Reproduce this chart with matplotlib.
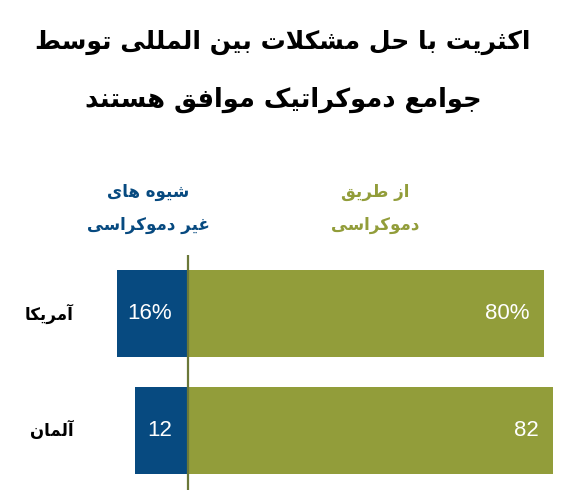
import matplotlib
matplotlib.use("Agg")
import matplotlib.pyplot as plt

# ---------------- data ----------------
countries = ["آمریکا", "آلمان"]
non_democratic = [16, 12]
democratic = [80, 82]
non_dem_labels = ["16%", "12"]
dem_labels = ["80%", "82"]
title_lines = ["اکثریت با حل مشکلات بین المللی توسط", "جوامع دموکراتیک موافق هستند"]
legend_blue = ["شیوه های", "غیر دموکراسی"]
legend_green = ["از طریق", "دموکراسی"]

# ------------- simple Persian shaping -------------
FORMS = {
    'ا': (0xFE8D, 0xFE8E, None, None),
    'آ': (0xFE81, 0xFE82, None, None),
    'ب': (0xFE8F, 0xFE90, 0xFE91, 0xFE92),
    'پ': (0xFB56, 0xFB57, 0xFB58, 0xFB59),
    'ت': (0xFE95, 0xFE96, 0xFE97, 0xFE98),
    'ث': (0xFE99, 0xFE9A, 0xFE9B, 0xFE9C),
    'ج': (0xFE9D, 0xFE9E, 0xFE9F, 0xFEA0),
    'چ': (0xFB7A, 0xFB7B, 0xFB7C, 0xFB7D),
    'ح': (0xFEA1, 0xFEA2, 0xFEA3, 0xFEA4),
    'خ': (0xFEA5, 0xFEA6, 0xFEA7, 0xFEA8),
    'د': (0xFEA9, 0xFEAA, None, None),
    'ذ': (0xFEAB, 0xFEAC, None, None),
    'ر': (0xFEAD, 0xFEAE, None, None),
    'ز': (0xFEAF, 0xFEB0, None, None),
    'ژ': (0xFB8A, 0xFB8B, None, None),
    'س': (0xFEB1, 0xFEB2, 0xFEB3, 0xFEB4),
    'ش': (0xFEB5, 0xFEB6, 0xFEB7, 0xFEB8),
    'ص': (0xFEB9, 0xFEBA, 0xFEBB, 0xFEBC),
    'ض': (0xFEBD, 0xFEBE, 0xFEBF, 0xFEC0),
    'ط': (0xFEC1, 0xFEC2, 0xFEC3, 0xFEC4),
    'ظ': (0xFEC5, 0xFEC6, 0xFEC7, 0xFEC8),
    'ع': (0xFEC9, 0xFECA, 0xFECB, 0xFECC),
    'غ': (0xFECD, 0xFECE, 0xFECF, 0xFED0),
    'ف': (0xFED1, 0xFED2, 0xFED3, 0xFED4),
    'ق': (0xFED5, 0xFED6, 0xFED7, 0xFED8),
    'ک': (0xFB8E, 0xFB8F, 0xFB90, 0xFB91),
    'گ': (0xFB92, 0xFB93, 0xFB94, 0xFB95),
    'ل': (0xFEDD, 0xFEDE, 0xFEDF, 0xFEE0),
    'م': (0xFEE1, 0xFEE2, 0xFEE3, 0xFEE4),
    'ن': (0xFEE5, 0xFEE6, 0xFEE7, 0xFEE8),
    'و': (0xFEED, 0xFEEE, None, None),
    'ه': (0xFEE9, 0xFEEA, 0xFEEB, 0xFEEC),
    'ی': (0xFBFC, 0xFBFD, 0xFBFE, 0xFBFF),
}
LIG = {'ا': (0xFEFB, 0xFEFC), 'آ': (0xFEF5, 0xFEF6)}


def dual(c):
    return c in FORMS and FORMS[c][2] is not None


def shape(text):
    chars = list(text)
    out = []
    i = 0
    n = len(chars)
    while i < n:
        c = chars[i]
        if c not in FORMS:
            out.append(c)
            i += 1
            continue
        prev_join = i > 0 and dual(chars[i - 1])
        if c == 'ل' and i + 1 < n and chars[i + 1] in LIG:
            iso, fin = LIG[chars[i + 1]]
            out.append(chr(fin if prev_join else iso))
            i += 2
            continue
        next_join = dual(c) and i + 1 < n and chars[i + 1] in FORMS
        iso, fin, ini, med = FORMS[c]
        if prev_join and next_join:
            code = med
        elif prev_join:
            code = fin
        elif next_join:
            code = ini
        else:
            code = iso
        out.append(chr(code))
        i += 1
    return ''.join(reversed(out))


# ---------------- figure ----------------
W, H = 566, 499
fig = plt.figure(figsize=(W / 100, H / 100), dpi=100)
fig.patch.set_facecolor("white")

BLUE = "#074a80"
GREEN = "#929d3a"
LINE = "#6b7838"
AR = ["DejaVu Sans"]

# title
fig.text(0.5, 1 - 42 / H, shape(title_lines[0]), ha="center", va="center",
         fontsize=18, fontweight="bold", family=AR, color="black")
fig.text(0.5, 1 - 100 / H, shape(title_lines[1]), ha="center", va="center",
         fontsize=18.5, fontweight="bold", family=AR, color="black")

# legend headers
for j, t in enumerate(legend_blue):
    fig.text(148 / W, 1 - (192 + 33 * j) / H, shape(t), ha="center", va="center",
             fontsize=12, fontweight="bold", family=AR, color=BLUE)
for j, t in enumerate(legend_green):
    fig.text(375 / W, 1 - (192 + 33 * j) / H, shape(t), ha="center", va="center",
             fontsize=12, fontweight="bold", family=AR, color=GREEN)

# bars axes: px x = 188 + 4.45 * v ; rows spaced 117 px
ax = fig.add_axes([0, 9 / H, 1, 235 / H])
scale = 4.45
ax.set_xlim(-188 / scale, (W - 188) / scale)
ax.set_ylim((490 - 313.5) / 117, (255 - 313.5) / 117)
ax.axis("off")

ypos = list(range(len(countries)))
bh = 87 / 117
ax.barh(ypos, [-v for v in non_democratic], height=bh, color=BLUE, edgecolor="none")
ax.barh(ypos, democratic, height=bh, color=GREEN, edgecolor="none")
ax.axvline(0, color=LINE, lw=1.6, ymin=0, ymax=1)

for y, v, lab in zip(ypos, non_democratic, non_dem_labels):
    ax.text(-16 / scale, y, lab, ha="right", va="center", color="white",
            fontsize=16, family="Liberation Sans")
for y, v, lab in zip(ypos, democratic, dem_labels):
    ax.text(v - 14 / scale, y, lab, ha="right", va="center", color="white",
            fontsize=16, family="Liberation Sans")
for y, c in zip(ypos, countries):
    ax.text((74 - 188) / scale, y, shape(c), ha="right", va="center", color="black",
            fontsize=12, fontweight="bold", family=AR)

fig.savefig("out.png", dpi=100, facecolor="white")
